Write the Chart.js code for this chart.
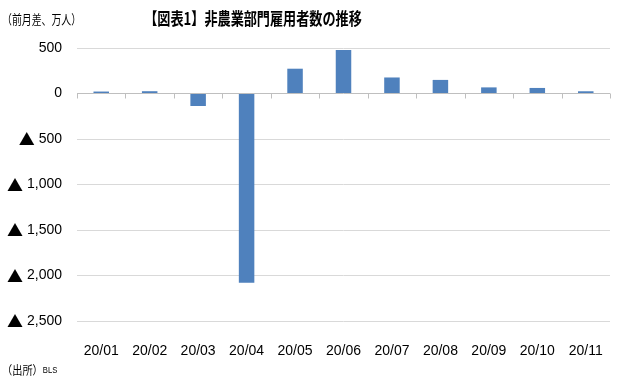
<!DOCTYPE html>
<html>
<head>
<meta charset="utf-8">
<script src="https://cdn.jsdelivr.net/npm/chart.js@4/dist/chart.umd.min.js"></script>
<style>
  html, body { margin: 0; padding: 0; background: #fff; }
  #wrap { width: 619px; height: 381px; }
</style>
</head>
<body>
<div id="wrap"><canvas id="chart" width="619" height="381"></canvas></div>
<script>
// data (前月差, 万人)
const months = ['20/01', '20/02', '20/03', '20/04', '20/05', '20/06', '20/07', '20/08', '20/09', '20/10', '20/11'];
const payrollChange = [21.4, 25.1, -137.3, -2078.7, 272.5, 478.1, 176.1, 149.3, 67.2, 61.0, 24.5];
const yTicks = [500, 0, -500, -1000, -1500, -2000, -2500];

const titleText = '【図表1】非農業部門雇用者数の推移';
const unitText = '（前月差、万人）';
const sourceText = '（出所）';
const sourceName = 'BLS';
const minusMark = '▲';

const cjk = '"Noto Sans CJK JP", "Noto Sans", sans-serif';
const tickFont = '"Liberation Sans", sans-serif';

// draws title, unit label, source note, ▲ marks and the small category ticks on the zero line
const extrasPlugin = {
  id: 'extras',
  afterDatasetsDraw(chart) {
    const ctx = chart.ctx;
    const x = chart.scales.x;
    const y = chart.scales.y;
    const zero = y.getPixelForValue(0);
    const step = (x.right - x.left) / months.length;

    ctx.save();
    ctx.strokeStyle = '#BFBFBF';
    ctx.lineWidth = 1;
    for (let i = 0; i <= months.length; i++) {
      const px = Math.round(x.left + i * step) + 0.5;
      ctx.beginPath();
      ctx.moveTo(px, zero);
      ctx.lineTo(px, zero + 5);
      ctx.stroke();
    }
    ctx.restore();

    // ▲ in front of the negative tick labels
    ctx.save();
    ctx.fillStyle = '#000';
    ctx.textBaseline = 'middle';
    ctx.textAlign = 'right';
    y.ticks.forEach(t => {
      if (t.value >= 0) return;
      ctx.font = '14px ' + tickFont;
      const w = ctx.measureText(Math.abs(t.value).toLocaleString('en-US')).width;
      ctx.font = '16px ' + cjk;
      ctx.fillText(minusMark, y.right - 15 - w - 4, y.getPixelForValue(t.value));
    });
    ctx.restore();

    // title (condensed)
    ctx.save();
    ctx.fillStyle = '#000';
    ctx.textBaseline = 'middle';
    ctx.textAlign = 'center';
    ctx.font = 'bold 16px ' + cjk;
    ctx.translate(253, 19);
    ctx.scale(0.82, 1.05);
    ctx.fillText(titleText, 0, 0);
    ctx.restore();

    // unit label
    ctx.save();
    ctx.fillStyle = '#000';
    ctx.textBaseline = 'middle';
    ctx.textAlign = 'left';
    ctx.font = '13px ' + cjk;
    ctx.translate(2, 19);
    ctx.scale(0.76, 1);
    ctx.fillText(unitText, 0, 0);
    ctx.restore();

    // source
    ctx.save();
    ctx.fillStyle = '#000';
    ctx.textBaseline = 'middle';
    ctx.textAlign = 'left';
    ctx.font = '12px ' + cjk;
    ctx.translate(2, 370);
    ctx.scale(0.85, 1);
    ctx.fillText(sourceText, 0, 0);
    const w = ctx.measureText(sourceText).width;
    ctx.font = '9px "Liberation Sans", sans-serif';
    ctx.fillText(sourceName, w, 1);
    ctx.restore();
  }
};

new Chart(document.getElementById('chart').getContext('2d'), {
  type: 'bar',
  data: {
    labels: months,
    datasets: [{
      data: payrollChange,
      backgroundColor: '#4F81BD',
      borderWidth: 0,
      categoryPercentage: 1,
      barPercentage: 0.32
    }]
  },
  options: {
    responsive: false,
    animation: false,
    layout: { padding: { top: 48, right: 9, bottom: 0, left: 0 } },
    plugins: {
      legend: { display: false },
      tooltip: { enabled: false }
    },
    scales: {
      x: {
        grid: { display: false },
        border: { display: false },
        ticks: {
          color: '#000',
          padding: 14,
          maxRotation: 0,
          font: { family: tickFont, size: 14 }
        },
        afterFit(scale) { scale.height = 60; }
      },
      y: {
        min: -2500,
        max: 500,
        afterBuildTicks(scale) {
          scale.ticks = yTicks.map(v => ({ value: v }));
        },
        grid: {
          drawTicks: false,
          color: ctx => (ctx.tick && ctx.tick.value === 0) ? '#BFBFBF' : '#D9D9D9'
        },
        border: { display: false },
        ticks: {
          color: '#000',
          padding: 15,
          font: { family: tickFont, size: 14 },
          callback: v => Math.abs(v).toLocaleString('en-US')
        },
        afterFit(scale) { scale.width = 77; }
      }
    }
  },
  plugins: [extrasPlugin]
});
</script>
</body>
</html>
